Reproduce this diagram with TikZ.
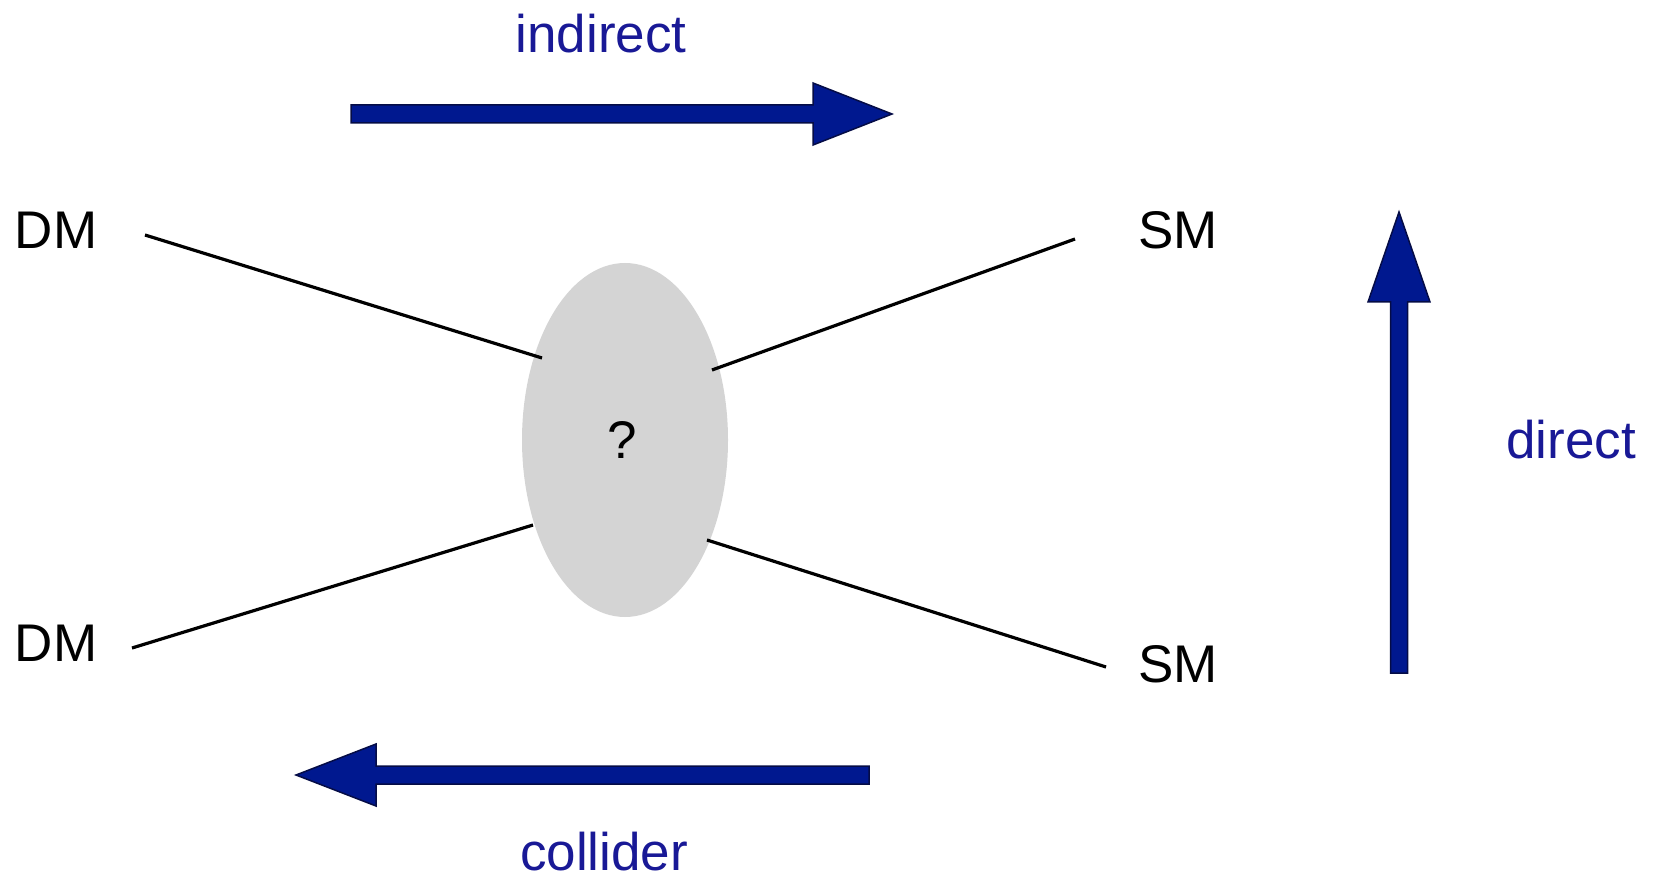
\documentclass[tikz,border=0pt]{standalone}
\usepackage{fontspec}
\setmainfont{Liberation Sans}
\definecolor{arrowblue}{RGB}{0,24,143}
\definecolor{arrowedge}{RGB}{5,12,70}
\definecolor{labelblue}{RGB}{25,25,150}
\definecolor{blobgray}{RGB}{212,212,212}
\tikzset{
  lbl/.style={anchor=base, inner sep=0pt, text depth=0pt, font=\fontsize{53}{60}\selectfont},
  bluelbl/.style={lbl, text=labelblue},
  bigarrow/.style={fill=arrowblue, draw=arrowedge, line width=1.5pt, line join=miter},
  leg/.style={draw=black, line width=3.2pt},
  blobstyle/.style={ellipse, fill=blobgray, minimum width=206pt, minimum height=354pt, inner sep=0pt}
}
\usetikzlibrary{shapes.geometric}
\begin{document}
\begin{tikzpicture}[x=1pt,y=-1pt]
\useasboundingbox (0,0) rectangle (1659,882);
% blob
\node[blobstyle] (blob) at (625,440) {};
\node[lbl] (q) at (622,458) {?};
% labels
\node[lbl] (dm1) at (56,249) {DM};
\node[lbl] (dm2) at (56,661) {DM};
\node[lbl] (sm1) at (1178,249) {SM};
\node[lbl] (sm2) at (1178,682) {SM};
\node[bluelbl] (ind) at (601,53) {indirect};
\node[bluelbl] (dir) at (1571,458) {direct};
\node[bluelbl] (col) at (604,870) {collider};
% leg end points
\coordinate (a1) at (145,235);
\coordinate (b1) at (542,358);
\coordinate (a2) at (1075,239);
\coordinate (b2) at (712,370);
\coordinate (a3) at (132,648);
\coordinate (b3) at (533,525);
\coordinate (a4) at (1106,667);
\coordinate (b4) at (707,540);
\draw[leg] (a1) -- (b1);
\draw[leg] (a2) -- (b2);
\draw[leg] (a3) -- (b3);
\draw[leg] (a4) -- (b4);
% big arrows
\draw[bigarrow] (351,105) -- (813,105) -- (813,83) -- (892,114) -- (813,145) -- (813,123) -- (351,123) -- cycle;
\draw[bigarrow] (869,766) -- (376,766) -- (376,744) -- (296,775) -- (376,806) -- (376,784) -- (869,784) -- cycle;
\draw[bigarrow] (1390.5,673) -- (1390.5,302) -- (1368,302) -- (1399,212) -- (1430,302) -- (1407.5,302) -- (1407.5,673) -- cycle;
\end{tikzpicture}
\end{document}
